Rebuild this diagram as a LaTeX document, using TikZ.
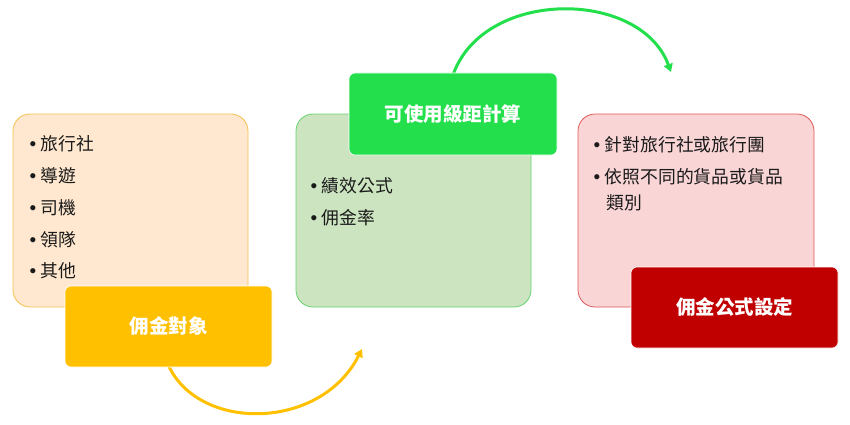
\documentclass[tikz,border=0pt]{standalone}
\usepackage{fontspec}
\setmainfont{Noto Sans CJK TC}
\newfontfamily\latinf{Liberation Sans}
\usetikzlibrary{arrows.meta}
\definecolor{boxAfill}{HTML}{FFE8CF}
\definecolor{boxAdraw}{HTML}{F4C04A}
\definecolor{boxBfill}{HTML}{CCE4C0}
\definecolor{boxBdraw}{HTML}{66D36E}
\definecolor{boxCfill}{HTML}{F9D5D6}
\definecolor{boxCdraw}{HTML}{E0575A}
\definecolor{labA}{HTML}{FFC000}
\definecolor{labB}{HTML}{22DF4B}
\definecolor{labC}{HTML}{C00000}
\definecolor{txt}{HTML}{1A1A1A}
\newcommand{\bul}{{\latinf\fontsize{19}{26}\selectfont\char"2022}\hspace{4.5pt}}
\tikzset{
  bigbox/.style={rounded corners=17pt, line width=0.8pt},
  labbox/.style={rounded corners=6pt, draw=white, line width=0.6pt, text=white,
     font=\bfseries\fontsize{19.5}{21}\selectfont},
  item/.style={anchor=base west, inner sep=0pt, text=txt, font=\fontsize{17.8}{26}\selectfont, align=left},
  flow/.style={line width=3pt, -{Triangle[length=8pt,width=9pt]}}
}
\begin{document}
\begin{tikzpicture}[x=1pt,y=-1pt]
\useasboundingbox (0,0) rectangle (850,425);
% big boxes
\draw[bigbox, fill=boxAfill, draw=boxAdraw] (13,114) rectangle (248,307);
\draw[bigbox, fill=boxBfill, draw=boxBdraw] (296,114) rectangle (531,307);
\draw[bigbox, fill=boxCfill, draw=boxCdraw] (578,114) rectangle (814,307);
% items box A
\node[item] (a1) at (29.5,150.5) {\bul 旅行社};
\node[item] (a2) at (29.5,182.5) {\bul 導遊};
\node[item] (a3) at (29.5,214.5) {\bul 司機};
\node[item] (a4) at (29.5,246.5) {\bul 領隊};
\node[item] (a5) at (29.5,277.5) {\bul 其他};
% items box B
\node[item] (b1) at (310.5,192.5) {\bul 績效公式};
\node[item] (b2) at (310.5,224.5) {\bul 佣金率};
% items box C
\node[item] (c1) at (593.5,151.5) {\bul 針對旅行社或旅行團};
\node[item] (c2) at (593.5,183.5) {\bul 依照不同的貨品或貨品};
\node[item] (c3) at (606.5,209.5) {類別};
% arrows
\coordinate (yA) at (167,362);
\coordinate (yB) at (362,349);
\coordinate (gA) at (452,78);
\coordinate (gB) at (671,72);
\draw[flow, draw=labA] (yA) .. controls (195,432) and (320,432) .. (yB);
\draw[flow, draw=labB] (gA) .. controls (480,-12) and (640,-12) .. (gB);
% labels
\node[labbox, fill=labA, minimum width=207pt, minimum height=81pt] (lab1) at (168.5,326.5) {佣金對象};
\node[labbox, fill=labB, minimum width=208pt, minimum height=82pt] (lab2) at (453,114) {可使用級距計算};
\node[labbox, fill=labC, minimum width=207pt, minimum height=81pt] (lab3) at (734.5,307.5) {佣金公式設定};
\end{tikzpicture}
\end{document}
